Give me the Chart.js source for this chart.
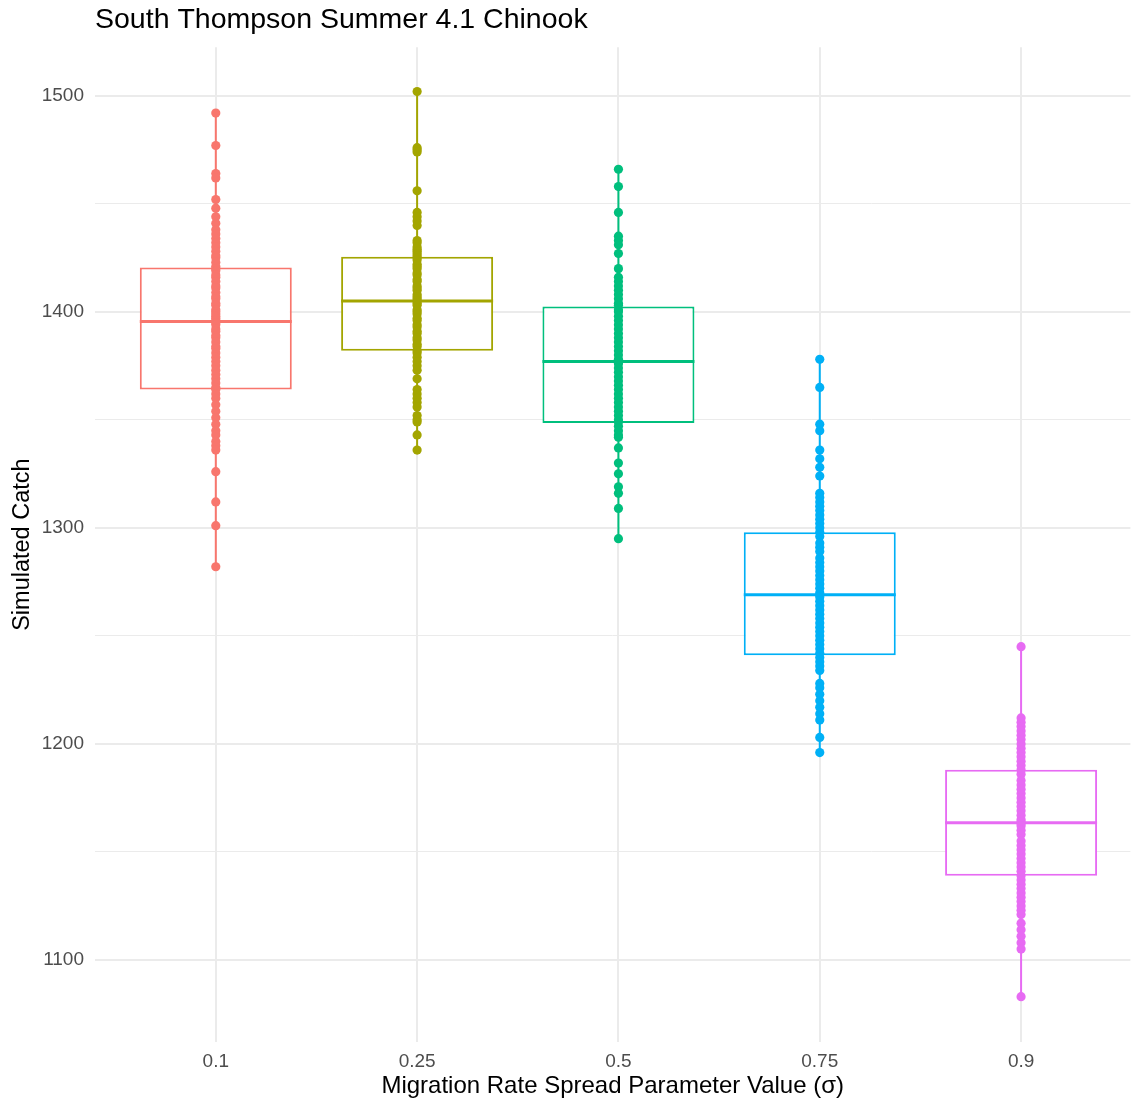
<!DOCTYPE html>
<html>
<head>
<meta charset="utf-8">
<script src="https://cdn.jsdelivr.net/npm/chart.js@4"></script>
<style>
  body { margin: 0; background: #fff; }
  #wrap { width: 1135px; height: 1103px; }
</style>
</head>
<body>
<div id="wrap"><canvas id="catch_chart"></canvas></div>
<script>
Chart.defaults.font.family = "'Liberation Sans', Arial, sans-serif";

const sigmas = ['0.1', '0.25', '0.5', '0.75', '0.9'];
const colors = ['#F8766D', '#A3A500', '#00BF7D', '#00B0F6', '#E76BF3'];

// box stats
const q1 = [1364, 1382, 1348.5, 1241, 1139];
const medians = [1395.5, 1405, 1377, 1269, 1163.5];
const q3 = [1420.5, 1425.5, 1402.5, 1298, 1188];

const y_ticks = [1100, 1150, 1200, 1250, 1300, 1350, 1400, 1450, 1500];

const catch_01 = [1492, 1477, 1464, 1462, 1452, 1448, 1444, 1441, 1438, 1436, 1434, 1432, 1430, 1428, 1426,
  1425, 1423, 1421, 1420, 1419, 1417, 1416, 1414, 1412, 1411, 1409, 1407, 1406, 1404, 1403, 1401, 1400,
  1399, 1398, 1397, 1396, 1395, 1394, 1392, 1391, 1389, 1388, 1386, 1384, 1383, 1381, 1379, 1377, 1375,
  1373, 1371, 1369, 1367, 1365, 1364, 1362, 1360, 1357, 1354, 1351, 1348, 1345, 1343, 1340, 1338, 1336,
  1326, 1312, 1301, 1282];
const catch_025 = [1502, 1476, 1475, 1474, 1456, 1446, 1444, 1442, 1440, 1433, 1432, 1430, 1429, 1428, 1427,
  1426, 1425, 1424, 1422, 1421, 1420, 1418, 1417, 1415, 1414, 1412, 1411, 1410, 1408, 1407, 1406, 1405,
  1404, 1403, 1401, 1400, 1399, 1397, 1396, 1394, 1393, 1391, 1390, 1388, 1387, 1385, 1384, 1382, 1381,
  1379, 1377, 1375, 1373, 1369, 1364, 1362, 1360, 1358, 1356, 1352, 1350, 1349, 1343, 1336];
const catch_05 = [1466, 1458, 1446, 1435, 1433, 1431, 1427, 1420, 1416, 1414, 1412, 1410, 1408, 1406, 1404,
  1403, 1401, 1400, 1398, 1396, 1394, 1392, 1390, 1388, 1386, 1384, 1382, 1380, 1378, 1377, 1376, 1374,
  1372, 1370, 1368, 1366, 1364, 1362, 1360, 1358, 1356, 1354, 1352, 1350, 1349, 1347, 1345, 1343, 1342,
  1337, 1330, 1325, 1319, 1316, 1309, 1295];
const catch_075 = [1378, 1365, 1348, 1345, 1336, 1332, 1328, 1324, 1316, 1314, 1312, 1310, 1308, 1306, 1304,
  1302, 1300, 1298, 1296, 1293, 1291, 1289, 1286, 1284, 1282, 1280, 1278, 1276, 1274, 1272, 1270, 1269,
  1268, 1266, 1264, 1262, 1260, 1258, 1256, 1254, 1252, 1250, 1248, 1246, 1244, 1242, 1240, 1238, 1236,
  1234, 1228, 1226, 1223, 1220, 1217, 1214, 1211, 1203, 1196];
const catch_09 = [1245, 1212, 1210, 1208, 1206, 1204, 1202, 1200, 1198, 1196, 1194, 1192, 1190, 1188, 1186,
  1183, 1181, 1179, 1177, 1175, 1173, 1171, 1169, 1167, 1165, 1164, 1163, 1162, 1160, 1158, 1155, 1153,
  1151, 1149, 1147, 1145, 1143, 1141, 1139, 1137, 1135, 1133, 1131, 1129, 1127, 1125, 1123, 1121, 1117,
  1114, 1111, 1108, 1105, 1083];

const all_catch = [catch_01, catch_025, catch_05, catch_075, catch_09];

const point_sets = all_catch.map((vals, i) => ({
  type: 'line',
  label: sigmas[i],
  data: vals.map(v => ({ x: i, y: v })),
  borderColor: colors[i],
  backgroundColor: colors[i],
  borderWidth: 2,
  pointRadius: 4.6,
  pointBorderWidth: 0,
  order: 0
}));

const box_set = {
  type: 'bar',
  label: 'box',
  data: sigmas.map((s, i) => ({ x: i, y: [q1[i], q3[i]] })),
  backgroundColor: '#ffffff',
  borderColor: colors,
  borderWidth: 2,
  borderSkipped: false,
  grouped: false,
  barPercentage: 0.755,
  categoryPercentage: 1,
  order: 2
};

const median_set = {
  type: 'bar',
  label: 'median',
  data: sigmas.map((s, i) => ({ x: i, y: [medians[i] - 0.7, medians[i] + 0.7] })),
  backgroundColor: colors,
  borderWidth: 0,
  grouped: false,
  barPercentage: 0.755,
  categoryPercentage: 1,
  order: 1
};

const catch_config = {
  type: 'bar',
  data: { datasets: [box_set, median_set, ...point_sets] },
  options: {
    responsive: true,
    maintainAspectRatio: false,
    animation: false,
    layout: { padding: { left: 0, right: 0, top: 0, bottom: 0 } },
    plugins: {
      legend: { display: false },
      tooltip: { enabled: false },
      title: {
        display: true,
        text: 'South Thompson Summer 4.1 Chinook',
        align: 'start',
        fullSize: false,
        color: '#000',
        font: { size: 28.5, weight: 'normal' },
        padding: { top: 3, bottom: 10 }
      }
    },
    scales: {
      x: {
        type: 'linear',
        min: -0.6,
        max: 4.543,
        offset: false,
        afterBuildTicks: (scale) => { scale.ticks = sigmas.map((s, i) => ({ value: i })); },
        afterFit: (scale) => { scale.height = 61; },
        ticks: {
          callback: (v) => sigmas[v],
          color: '#4d4d4d',
          font: { size: 19 },
          padding: 8,
          maxRotation: 0
        },
        grid: { color: '#ebebeb', lineWidth: 2, drawTicks: false, offset: false },
        border: { display: false },
        title: {
          display: true,
          text: 'Migration Rate Spread Parameter Value (σ)',
          color: '#000',
          font: { size: 24 },
          padding: { top: 2, bottom: 2 }
        }
      },
      y: {
        min: 1062,
        max: 1522.5,
        afterBuildTicks: (scale) => { scale.ticks = y_ticks.map(v => ({ value: v })); },
        afterFit: (scale) => { scale.width = 95; },
        ticks: {
          callback: (v) => (v % 100 === 0 ? String(v) : ''),
          color: '#4d4d4d',
          font: { size: 19 },
          padding: 11
        },
        grid: {
          color: '#ebebeb',
          lineWidth: (ctx) => (ctx.tick && ctx.tick.value % 100 === 0 ? 2 : 1),
          drawTicks: false
        },
        border: { display: false },
        title: {
          display: true,
          text: 'Simulated Catch',
          color: '#000',
          font: { size: 23.5 },
          padding: { top: 8, bottom: 8 }
        }
      }
    }
  }
};

const catch_chart = new Chart(
  document.getElementById('catch_chart'),
  catch_config
);
</script>
</body>
</html>
